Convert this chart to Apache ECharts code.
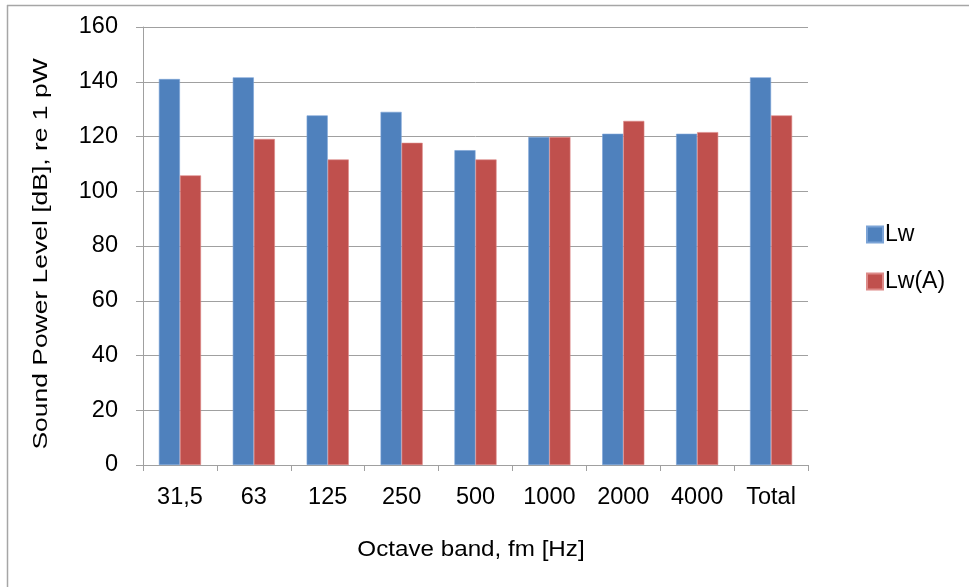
<!DOCTYPE html>
<html>
<head>
<meta charset="utf-8">
<script src="https://cdn.jsdelivr.net/npm/echarts@6/dist/echarts.min.js"></script>
<style>
  html, body { margin: 0; padding: 0; background: #fff; }
  #chart { width: 969px; height: 587px; }
</style>
</head>
<body>
<div id="chart"></div>
<script>
// Octave bands and sound power levels (dB re 1 pW)
const bands = ['31,5', '63', '125', '250', '500', '1000', '2000', '4000', 'Total'];
const lw = [141.0, 141.6, 127.7, 129.0, 115.0, 119.8, 121.0, 121.0, 141.6];
const lwA = [105.8, 119.1, 111.6, 117.7, 111.6, 119.8, 125.7, 121.6, 127.7];
const yTicks = { min: 0, max: 160, step: 20 };
const xTitle = 'Octave band, fm [Hz]';
const yTitle = 'Sound Power Level [dB], re 1 pW';

const FONT = 'Liberation Sans, Arial, sans-serif';
const GREY = '#a0a0a0';

const chart = echarts.init(document.getElementById('chart'), null, { renderer: 'canvas' });

chart.setOption({
  backgroundColor: '#ffffff',
  animation: false,
  textStyle: { fontFamily: FONT, color: '#000' },
  grid: { left: 143, right: 161, top: 27, bottom: 122, containLabel: false },
  legend: {
    orient: 'vertical',
    left: 861,
    top: 218,
    itemWidth: 16,
    itemHeight: 16,
    itemGap: 24,
    icon: 'rect',
    textStyle: { fontFamily: FONT, fontSize: 23, color: '#000', padding: [0, 0, 0, -3] },
    data: ['Lw', 'Lw(A)']
  },
  xAxis: {
    type: 'category',
    data: bands,
    axisLine: { lineStyle: { color: GREY, width: 1 } },
    axisTick: { show: true, length: 6, lineStyle: { color: GREY } },
    axisLabel: { fontFamily: FONT, fontSize: 23.5, color: '#000', margin: 21 },
    splitLine: { show: false }
  },
  yAxis: {
    type: 'value',
    min: yTicks.min,
    max: yTicks.max,
    interval: yTicks.step,
    axisLine: { show: true, lineStyle: { color: GREY, width: 1 } },
    axisTick: { show: true, length: 7, lineStyle: { color: GREY } },
    axisLabel: { fontFamily: FONT, fontSize: 23.5, color: '#000', margin: 25 },
    splitLine: { show: true, lineStyle: { color: GREY, width: 1 } }
  },
  series: [
    {
      name: 'Lw',
      type: 'bar',
      data: lw,
      barGap: '0%',
      barCategoryGap: '43%',
      itemStyle: { color: '#4F81BD', borderColor: '#7ba3d6', borderWidth: 0.6 }
    },
    {
      name: 'Lw(A)',
      type: 'bar',
      data: lwA,
      itemStyle: { color: '#C0504D', borderColor: '#dd8a88', borderWidth: 0.6 }
    }
  ],
  graphic: [
    // outer frame (top and left edges)
    { type: 'line', shape: { x1: 7, y1: 5.5, x2: 969, y2: 5.5 }, style: { stroke: '#a6a6a6', lineWidth: 1.5 }, silent: true },
    { type: 'line', shape: { x1: 7.5, y1: 5, x2: 7.5, y2: 587 }, style: { stroke: '#a6a6a6', lineWidth: 1.5 }, silent: true },
    // axis titles
    {
      type: 'text', x: 471, y: 550, scaleX: 1.1, silent: true,
      style: { text: xTitle, font: '22px ' + FONT, fill: '#000', textAlign: 'center', textVerticalAlign: 'middle' }
    },
    {
      type: 'text', x: 41, y: 254, rotation: Math.PI / 2, scaleX: 1.26, silent: true,
      style: { text: yTitle, font: '21px ' + FONT, fill: '#000', textAlign: 'center', textVerticalAlign: 'middle' }
    }
  ]
});
</script>
</body>
</html>
